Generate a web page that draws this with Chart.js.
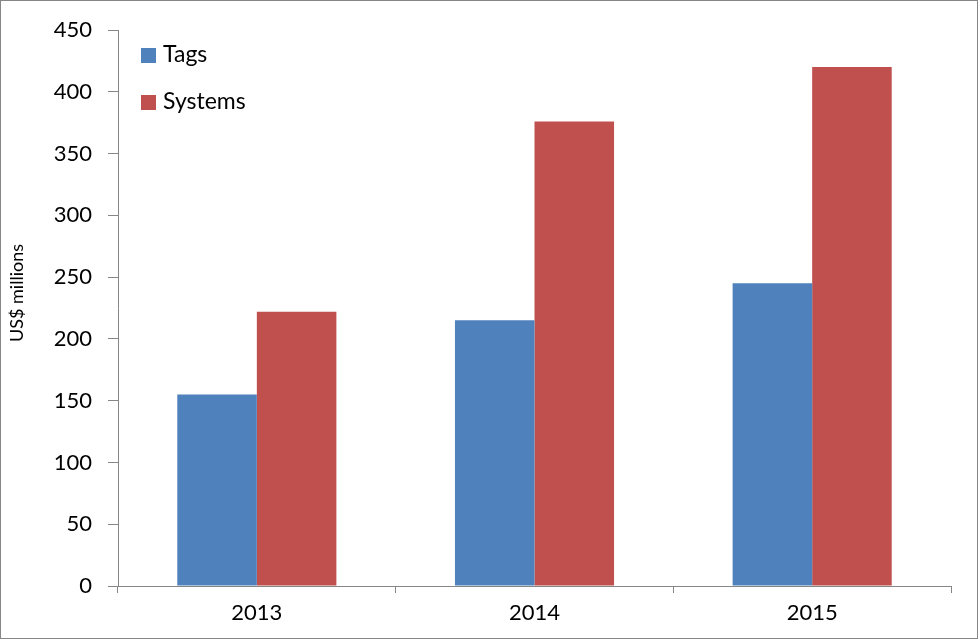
<!DOCTYPE html>
<html>
<head>
<meta charset="utf-8">
<script src="https://cdn.jsdelivr.net/npm/chart.js@4.4.0/dist/chart.umd.min.js"></script>
<style>
  html, body { margin: 0; padding: 0; background: #fff; }
  #wrap { width: 978px; height: 639px; }
</style>
</head>
<body>
<div id="wrap"><canvas id="myChart" width="978" height="639"></canvas></div>
<script>
const years = ['2013', '2014', '2015'];
const tags = [155, 215, 245];
const systems = [222, 376, 420];
const seriesNames = ['Tags', 'Systems'];
const yTitle = 'US$ millions';

const fontFamily = 'Lato, "Noto Sans", sans-serif';
const axisGray = '#868686';

// border round the picture, in-plot legend and the axis title
const extras = {
  id: 'extras',
  afterDraw(chart) {
    const c = chart.ctx;
    c.save();
    c.strokeStyle = axisGray;
    c.lineWidth = 1;
    c.strokeRect(0.5, 0.5, chart.width - 1, chart.height - 1);

    c.font = '23px ' + fontFamily;
    c.textBaseline = 'middle';
    c.textAlign = 'left';
    chart.data.datasets.forEach((ds, i) => {
      const y = 55 + i * 47;
      c.fillStyle = ds.backgroundColor;
      c.fillRect(141, y - 7, 15, 15);
      c.fillStyle = '#000';
      c.fillText(ds.label, 163, y);
    });

    c.translate(17, 293);
    c.rotate(-Math.PI / 2);
    c.textAlign = 'center';
    c.font = '18px ' + fontFamily;
    c.fillText(yTitle, 0, 0);
    c.restore();
  }
};

const ctx = document.getElementById('myChart');

const chart = new Chart(ctx, {
  type: 'bar',
  data: {
    labels: years,
    datasets: [
      { label: seriesNames[0], data: tags, backgroundColor: '#4F81BD' },
      { label: seriesNames[1], data: systems, backgroundColor: '#C0504D' }
    ]
  },
  options: {
    responsive: false,
    animation: false,
    layout: { padding: { top: 30, right: 27, left: 0, bottom: 0 } },
    datasets: {
      bar: { categoryPercentage: 0.573, barPercentage: 1.0 }
    },
    plugins: {
      legend: { display: false },
      tooltip: { enabled: false }
    },
    scales: {
      x: {
        grid: { offset: true, drawOnChartArea: false, drawTicks: true, tickLength: 7, color: axisGray },
        border: { display: true, color: axisGray },
        ticks: { color: '#000', font: { family: fontFamily, size: 22 }, padding: 7 },
        afterFit(scale) { scale.height = 53; }
      },
      y: {
        min: 0,
        max: 450,
        ticks: { stepSize: 50, color: '#000', font: { family: fontFamily, size: 22 }, padding: 16 },
        grid: { drawOnChartArea: false, drawTicks: true, tickLength: 10, color: axisGray },
        border: { display: true, color: axisGray },
        afterFit(scale) { scale.width = 118; }
      }
    }
  },
  plugins: [extras]
});
</script>
</body>
</html>
